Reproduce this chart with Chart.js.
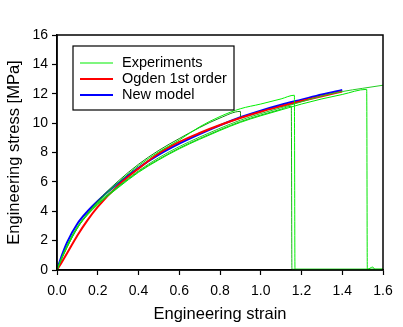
<!DOCTYPE html>
<html>
<head>
<meta charset="utf-8">
<script src="https://cdn.jsdelivr.net/npm/chart.js@4/dist/chart.umd.min.js"></script>
<style>
  html, body { margin: 0; padding: 0; background: #fff; }
  #wrap { width: 403px; height: 327px; }
</style>
</head>
<body>
<div id="wrap"><canvas id="grafica"></canvas></div>
<script>
// model curves (shared strain grid)
var strainModel = [0, 0.02, 0.05, 0.1, 0.15, 0.2, 0.3, 0.4, 0.5, 0.6, 0.7, 0.8, 0.9, 1.0, 1.1, 1.2, 1.3, 1.4];
var stressOgden = [0, 0.45, 1.15, 2.35, 3.4, 4.3, 5.75, 6.9, 7.95, 8.72, 9.33, 9.87, 10.35, 10.78, 11.15, 11.5, 11.83, 12.15];
var stressNew   = [0, 0.85, 1.9, 3.15, 4.0, 4.7, 5.9, 6.95, 7.85, 8.6, 9.25, 9.85, 10.4, 10.85, 11.25, 11.6, 11.95, 12.26];

// experiments
var strainExp1 = [0, 0.02, 0.05, 0.1, 0.15, 0.2, 0.3, 0.4, 0.5, 0.6, 0.7, 0.8, 0.9, 0.901];
var stressExp1 = [0, 0.7, 1.6, 2.85, 3.85, 4.7, 6.05, 7.2, 8.15, 8.95, 9.7, 10.35, 10.8, 10.45];

var strainExp2 = [0, 0.02, 0.05, 0.1, 0.15, 0.2, 0.3, 0.4, 0.5, 0.6, 0.7, 0.8, 0.9, 1.0, 1.1, 1.165, 1.168, 1.6];
var stressExp2 = [0, 0.75, 1.7, 2.95, 3.85, 4.6, 5.95, 7.1, 8.05, 8.85, 9.75, 10.45, 10.98, 11.3, 11.65, 11.9, 0.05, 0.05];

var strainExp3 = [0, 0.02, 0.05, 0.1, 0.15, 0.2, 0.3, 0.4, 0.5, 0.6, 0.7, 0.8, 0.9, 1.0, 1.1, 1.15, 1.153, 1.6];
var stressExp3 = [0, 0.7, 1.6, 2.9, 3.8, 4.5, 5.65, 6.7, 7.55, 8.3, 8.95, 9.55, 10.1, 10.55, 10.95, 11.15, 0.05, 0.05];

var strainExp4 = [0, 0.02, 0.05, 0.1, 0.15, 0.2, 0.3, 0.4, 0.5, 0.6, 0.7, 0.8, 0.9, 1.0, 1.1, 1.2, 1.3, 1.4, 1.52, 1.523, 1.55, 1.56, 1.6];
var stressExp4 = [0, 0.65, 1.55, 2.85, 3.75, 4.45, 5.6, 6.65, 7.5, 8.25, 8.9, 9.5, 10.05, 10.5, 10.9, 11.3, 11.65, 11.95, 12.3, 0.05, 0.2, 0.05, 0.05];

var strainExp5 = [0, 0.02, 0.05, 0.1, 0.15, 0.2, 0.3, 0.4, 0.5, 0.6, 0.7, 0.8, 0.9, 1.0, 1.1, 1.2, 1.3, 1.4, 1.5, 1.6];
var stressExp5 = [0, 0.7, 1.65, 2.9, 3.8, 4.55, 5.7, 6.75, 7.65, 8.4, 9.05, 9.65, 10.2, 10.65, 11.05, 11.45, 11.85, 12.15, 12.37, 12.58];

var legendLabels = ['Experiments', 'Ogden 1st order', 'New model'];
var legendColors = ['#00ee00', '#ff0000', '#0000ff'];

var xTicks = [0, 0.2, 0.4, 0.6, 0.8, 1.0, 1.2, 1.4, 1.6];
var yTicks = [0, 2, 4, 6, 8, 10, 12, 14, 16];

function puntos(xs, ys) {
    var r = [];
    for (var i = 0; i < xs.length; i++) r.push({x: xs[i], y: ys[i]});
    return r;
}

function serie(xs, ys, color, ancho) {
    return {
        data: puntos(xs, ys),
        borderColor: color,
        borderWidth: ancho,
        pointRadius: 0,
        fill: false,
        cubicInterpolationMode: 'monotone'
    };
}

var fuente = 'Arial, "Liberation Sans", sans-serif';

// box around plot + legend inside
var marco = {
    id: 'marco',
    afterDatasetsDraw: function (chart) {
        var ctx = chart.ctx, a = chart.chartArea;
        ctx.save();
        ctx.strokeStyle = '#000';
        ctx.lineWidth = 1.5;
        ctx.strokeRect(a.left, a.top, a.right - a.left, a.bottom - a.top);

        var bx = 73, by = 46, bw = 161, bh = 64;
        ctx.fillStyle = '#fff';
        ctx.fillRect(bx, by, bw, bh);
        ctx.lineWidth = 1.2;
        ctx.strokeRect(bx, by, bw, bh);
        ctx.font = '14.5px ' + fuente;
        ctx.textBaseline = 'middle';
        for (var i = 0; i < legendLabels.length; i++) {
            var yy = by + 17 + i * 16;
            ctx.strokeStyle = legendColors[i];
            ctx.lineWidth = i == 0 ? 1.2 : 2;
            ctx.beginPath();
            ctx.moveTo(bx + 7, yy);
            ctx.lineTo(bx + 40, yy);
            ctx.stroke();
            ctx.fillStyle = '#000';
            ctx.fillText(legendLabels[i], bx + 49, yy);
        }
        ctx.restore();
    }
};

var mychart = new Chart(document.getElementById('grafica'), {
    type: 'line',
    data: {
        datasets: [
            serie(strainExp5, stressExp5, '#22cc22', 1),
            serie(strainExp4, stressExp4, '#00e600', 1),
            serie(strainExp3, stressExp3, '#11bb11', 1),
            serie(strainExp2, stressExp2, '#00f000', 1),
            serie(strainExp1, stressExp1, '#118811', 1),
            serie(strainModel, stressOgden, '#ff0000', 2),
            serie(strainModel, stressNew, '#0000ff', 2)
        ]
    },
    options: {
        responsive: true,
        maintainAspectRatio: false,
        animation: false,
        layout: { padding: { top: 35, right: 20, left: 0, bottom: 0 } },
        plugins: { legend: { display: false }, tooltip: { enabled: false } },
        scales: {
            x: {
                type: 'linear', min: 0, max: 1.6,
                afterBuildTicks: function (s) { s.ticks = xTicks.map(function (v) { return {value: v}; }); },
                afterFit: function (s) { s.height = 57; },
                grid: { drawOnChartArea: false, drawTicks: true, tickLength: 5, tickColor: '#000', tickWidth: 1.2 },
                border: { display: true, color: '#000', width: 1.5 },
                ticks: {
                    color: '#000', padding: 8, maxRotation: 0,
                    font: { family: fuente, size: 14 },
                    callback: function (v) { return v.toFixed(1); }
                },
                title: {
                    display: true, text: 'Engineering strain', color: '#000',
                    font: { family: fuente, size: 16.5 }, padding: { top: 0, bottom: 3 }
                }
            },
            y: {
                type: 'linear', min: 0, max: 16,
                afterBuildTicks: function (s) { s.ticks = yTicks.map(function (v) { return {value: v}; }); },
                afterFit: function (s) { s.width = 57; },
                grid: { drawOnChartArea: false, drawTicks: true, tickLength: 5, tickColor: '#000', tickWidth: 1.2 },
                border: { display: true, color: '#000', width: 1.5 },
                ticks: {
                    color: '#000', padding: 4,
                    font: { family: fuente, size: 14 }
                },
                title: {
                    display: true, text: 'Engineering stress [MPa]', color: '#000',
                    font: { family: fuente, size: 16.5 }, padding: { top: 5, bottom: 0 }
                }
            }
        }
    },
    plugins: [marco]
});
</script>
</body>
</html>
